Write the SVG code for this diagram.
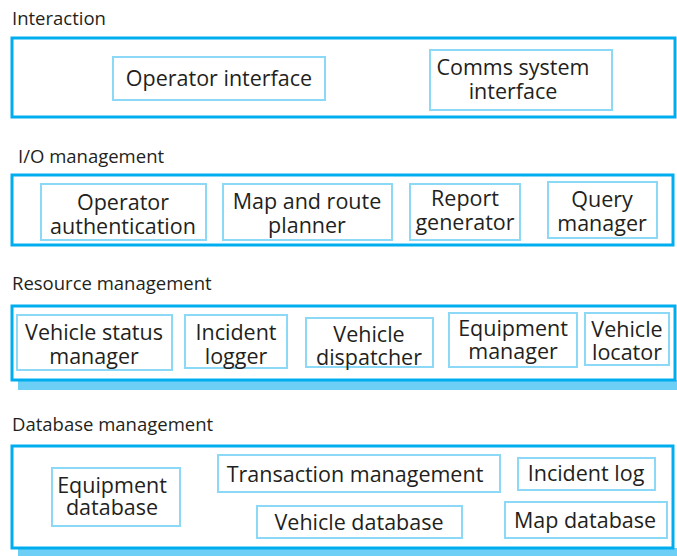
<svg xmlns="http://www.w3.org/2000/svg" width="677" height="556" viewBox="0 0 677 556">
<style>
.hdr{font-family:"Open Sans","Noto Sans",sans-serif;font-size:18.5px;fill:#231f20}
.lbl{font-family:"Open Sans","Noto Sans",sans-serif;font-size:21.5px;fill:#231f20;text-anchor:middle}
.outer{fill:#fff;stroke:#00aeef;stroke-width:3}
.inner{fill:#fff;stroke:#8bd9f7;stroke-width:2}
.shadow{fill:#6dcff6}
</style>
<rect width="677" height="556" fill="#fff"/>
<g id="layer-interaction">
<text class="hdr" x="12" y="25">Interaction</text>
<rect class="outer" x="12" y="38" width="663" height="79"/>
</g>
<g id="operator-interface">
<rect class="inner" x="113" y="57" width="212" height="43"/>
<text class="lbl" x="219" y="86">Operator interface</text>
</g>
<g id="comms-system-interface">
<rect class="inner" x="430" y="50" width="182" height="60"/>
<text class="lbl" x="513" y="75">Comms system</text>
<text class="lbl" x="513" y="99">interface</text>
</g>
<g id="layer-io">
<text class="hdr" x="18" y="163">I/O management</text>
<rect class="outer" x="12" y="175" width="661" height="70"/>
</g>
<g id="operator-authentication">
<rect class="inner" x="41" y="184" width="165" height="56"/>
<text class="lbl" x="123" y="210">Operator</text>
<text class="lbl" x="123" y="234">authentication</text>
</g>
<g id="map-route-planner">
<rect class="inner" x="223" y="184" width="169" height="56"/>
<text class="lbl" x="307" y="209">Map and route</text>
<text class="lbl" x="307" y="233">planner</text>
</g>
<g id="report-generator">
<rect class="inner" x="410" y="184" width="110" height="56"/>
<text class="lbl" x="465" y="206">Report</text>
<text class="lbl" x="465" y="230">generator</text>
</g>
<g id="query-manager">
<rect class="inner" x="548" y="182" width="109" height="56"/>
<text class="lbl" x="602" y="207">Query</text>
<text class="lbl" x="602" y="231">manager</text>
</g>
<g id="layer-resource">
<text class="hdr" x="12" y="290">Resource management</text>
<rect class="shadow" x="18" y="380" width="659" height="10"/>
<rect class="outer" x="12" y="306" width="663" height="74"/>
</g>
<g id="vehicle-status-manager">
<rect class="inner" x="17" y="315" width="155" height="55"/>
<text class="lbl" x="94" y="340">Vehicle status</text>
<text class="lbl" x="94" y="364">manager</text>
</g>
<g id="incident-logger">
<rect class="inner" x="185" y="315" width="102" height="53"/>
<text class="lbl" x="236" y="340">Incident</text>
<text class="lbl" x="236" y="364">logger</text>
</g>
<g id="vehicle-dispatcher">
<rect class="inner" x="306" y="318" width="127" height="49"/>
<text class="lbl" x="369" y="342">Vehicle</text>
<text class="lbl" x="369" y="365">dispatcher</text>
</g>
<g id="equipment-manager">
<rect class="inner" x="449" y="313" width="128" height="54"/>
<text class="lbl" x="513" y="336">Equipment</text>
<text class="lbl" x="513" y="359">manager</text>
</g>
<g id="vehicle-locator">
<rect class="inner" x="585" y="313" width="84" height="52"/>
<text class="lbl" x="627" y="337">Vehicle</text>
<text class="lbl" x="627" y="360">locator</text>
</g>
<g id="layer-database">
<text class="hdr" x="12" y="431">Database management</text>
<rect class="shadow" x="18" y="548" width="659" height="8"/>
<rect class="outer" x="12" y="446" width="661" height="102"/>
</g>
<g id="equipment-database">
<rect class="inner" x="52" y="468" width="128" height="58"/>
<text class="lbl" x="112" y="493">Equipment</text>
<text class="lbl" x="112" y="515">database</text>
</g>
<g id="transaction-management">
<rect class="inner" x="218" y="455" width="282" height="37"/>
<text class="lbl" x="355" y="482">Transaction management</text>
</g>
<g id="incident-log">
<rect class="inner" x="518" y="458" width="137" height="32"/>
<text class="lbl" x="586" y="481">Incident log</text>
</g>
<g id="vehicle-database">
<rect class="inner" x="257" y="506" width="205" height="32"/>
<text class="lbl" x="359" y="530">Vehicle database</text>
</g>
<g id="map-database">
<rect class="inner" x="505" y="502" width="162" height="36"/>
<text class="lbl" x="585" y="528">Map database</text>
</g>
<g id="connectors"></g>
</svg>
